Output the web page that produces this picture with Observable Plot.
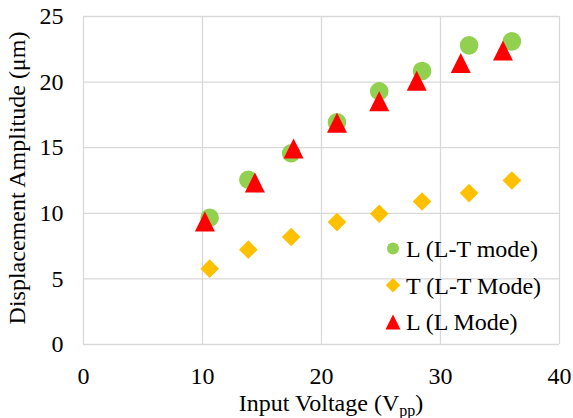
<!DOCTYPE html>
<html><head><meta charset="utf-8">
<script src="https://cdn.jsdelivr.net/npm/d3@7"></script>
<script src="https://cdn.jsdelivr.net/npm/@observablehq/plot@0.6"></script>
<style>
body{margin:0;background:#fff;}
#chart{position:relative;width:573px;height:418px;}
#chart svg text{font-family:"Liberation Serif","Times New Roman",serif !important;}
</style>
</head><body><div id="chart"></div>
<script>
const seriesNames = ["L (L-T mode)", "T (L-T Mode)", "L (L Mode)"];
const voltageLT = [10.6, 13.85, 17.45, 21.3, 24.85, 28.45, 32.4, 36.0];
const ampL_LT = [9.66, 12.56, 14.58, 16.94, 19.3, 20.85, 22.8, 23.1];
const ampT_LT = [5.78, 7.23, 8.19, 9.33, 9.97, 10.9, 11.54, 12.5];
const voltageL = [10.2, 14.4, 17.65, 21.3, 24.85, 28.0, 31.7, 35.25];
const ampL_L = [9.38, 12.34, 14.93, 16.9, 18.54, 20.1, 21.45, 22.4];
const xTicks = [0, 10, 20, 30, 40];
const yTicks = [0, 5, 10, 15, 20, 25];
const xTitle = ["Input Voltage (V", "pp", ")"];
const yTitle = "Displacement Amplitude (μm)";
const colors = ["#92D050", "#FFC000", "#FF0000"];

const triangleBox = {draw(ctx, size) {const r = Math.sqrt(size / Math.PI); ctx.moveTo(0, -r); ctx.lineTo(r, r); ctx.lineTo(-r, r); ctx.closePath();}};
const diamondSq = {draw(ctx, size) {const r = Math.sqrt(size / Math.PI); ctx.moveTo(0, -r); ctx.lineTo(r, 0); ctx.lineTo(0, r); ctx.lineTo(-r, 0); ctx.closePath();}};
const symbols = ["circle", diamondSq, triangleBox];
const radii = [9.3, 9.3, 10];

const s0 = voltageLT.map((v, i) => ({v, a: ampL_LT[i]}));
const s1 = voltageLT.map((v, i) => ({v, a: ampT_LT[i]}));
const s2 = voltageL.map((v, i) => ({v, a: ampL_L[i]}));
const series = [s0, s1, s2];

const font = "Liberation Serif, Times New Roman, serif";
const plot = Plot.plot({
  width: 573, height: 418,
  marginLeft: 83, marginRight: 14, marginTop: 16, marginBottom: 74,
  x: {domain: [0, 40], ticks: xTicks, tickSize: 0, tickPadding: 22, label: null},
  y: {domain: [0, 25], ticks: yTicks, tickSize: 0, tickPadding: 20, label: null},
  style: {fontFamily: font, fontSize: "24px", color: "#000", background: "#fff", overflow: "visible"},
  marks: [
    Plot.ruleX(xTicks, {stroke: "#D9D9D9", strokeWidth: 1.3}),
    Plot.ruleY(yTicks, {stroke: "#D9D9D9", strokeWidth: 1.3}),
    ...series.map((d, k) => Plot.dot(d, {x: "v", y: "a", r: radii[k], symbol: () => symbols[k], fill: colors[k], stroke: "none"}))
  ]
});
document.getElementById("chart").appendChild(plot);

const svg = d3.select(plot);
// axis titles
const xt = svg.append("text").attr("x", 331).attr("y", 411).attr("text-anchor", "middle")
  .attr("font-size", 24).attr("fill", "#000");
xt.append("tspan").text(xTitle[0]);
xt.append("tspan").attr("font-size", 16).attr("dy", 5).text(xTitle[1]);
xt.append("tspan").attr("dy", -5).text(xTitle[2]);
svg.append("text").attr("transform", "translate(25,178) rotate(-90)").attr("text-anchor", "middle")
  .attr("font-size", 24).attr("fill", "#000").text(yTitle);

// legend
const legendY = [248.5, 285.3, 322];
const sym = [d3.symbolCircle, diamondSq, triangleBox];
const lsize = [6, 7.2, 7.5];
seriesNames.forEach((name, k) => {
  const g = svg.append("g").attr("transform", `translate(393,${legendY[k]})`);
  if (k === 0) g.append("circle").attr("r", lsize[k]).attr("fill", colors[k]);
  else g.append("path").attr("d", d3.symbol(sym[k], Math.PI * lsize[k] * lsize[k])()).attr("fill", colors[k]);
  g.append("text").attr("x", 13).attr("y", 8.3).attr("text-anchor", "start").attr("font-size", 24).attr("fill", "#000").text(name);
});
</script>
</body></html>
